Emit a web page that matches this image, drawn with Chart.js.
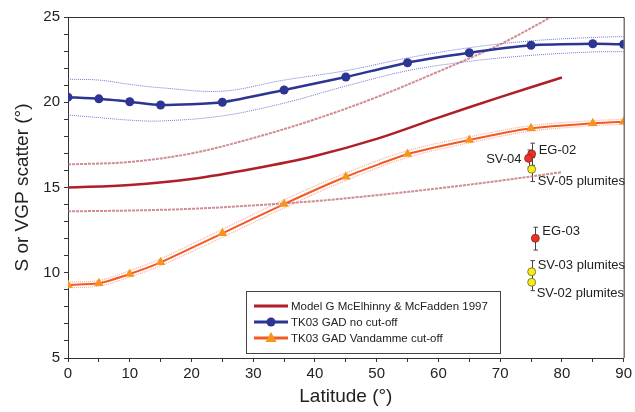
<!DOCTYPE html>
<html>
<head>
<meta charset="utf-8">
<script src="https://cdn.jsdelivr.net/npm/chart.js@4.4.1/dist/chart.umd.min.js"></script>
<style>
  html, body { margin: 0; padding: 0; background: #fff; }
  #wrap { width: 635px; height: 412px; position: relative; }
</style>
</head>
<body>
<div id="wrap"><canvas id="chart"></canvas></div>
<script>
// Latitude grid of the TK03 model runs
const tkLat = [0, 5, 10, 15, 25, 35, 45, 55, 65, 75, 85, 90];
const tkNoCut = [20.3, 20.2, 20.03, 19.84, 20.0, 20.72, 21.48, 22.32, 22.9, 23.34, 23.43, 23.4];
const tkNoCutHi = [21.35, 21.3, 21.05, 20.85, 20.65, 21.3, 21.85, 22.6, 23.2, 23.6, 23.8, 23.85];
const tkNoCutLo = [19.25, 19.1, 18.95, 18.9, 19.2, 19.95, 20.95, 21.85, 22.4, 22.75, 22.95, 22.97];
const tkVandamme = [9.28, 9.38, 9.93, 10.61, 12.31, 14.03, 15.63, 16.96, 17.79, 18.47, 18.77, 18.86];
const tkVandammeHi = [9.45, 9.55, 10.12, 10.82, 12.55, 14.28, 15.85, 17.16, 17.97, 18.63, 18.92, 19.0];
const tkVandammeLo = [9.12, 9.22, 9.75, 10.42, 12.08, 13.8, 15.42, 16.76, 17.62, 18.31, 18.62, 18.72];

// Model G (McElhinny & McFadden 1997) and its bounds
const modelLat = [0, 10, 20, 30, 40, 50, 60, 70, 80];
const modelG = [15.0, 15.15, 15.5, 16.1, 16.85, 17.85, 19.1, 20.3, 21.45];
const modelGHi = [16.35, 16.5, 17.0, 17.9, 19.0, 20.3, 21.8, 23.4, 25.35];
const modelGLo = [13.6, 13.65, 13.75, 13.95, 14.2, 14.55, 14.95, 15.4, 15.9];

// Site values with error bars
const siteNames = ['EG-02', 'SV-04', 'SV-05 plumites', 'EG-03', 'SV-03 plumites', 'SV-02 plumites'];
const siteLat = [75.1, 74.6, 75.1, 75.7, 75.1, 75.1];
const siteS = [16.96, 16.71, 16.07, 12.02, 10.06, 9.44];
const siteLow = [16.3, 16.2, 15.35, 11.33, 9.5, 8.95];
const siteHigh = [17.6, 17.2, 16.75, 12.67, 10.71, 9.9];
const siteKind = ['red', 'red', 'yellow', 'red', 'yellow', 'yellow'];

const xTicks = { min: 0, max: 90, step: 5, labelEvery: 10 };
const yTicks = { min: 5, max: 25, step: 1, labelEvery: 5 };

const pts = (xs, ys) => xs.map((x, i) => ({ x: x, y: ys[i] }));
const sitePts = (kind) => siteLat
  .map((x, i) => ({ x: x, y: siteS[i], i: i }))
  .filter(p => siteKind[p.i] === kind);

// label offsets (px) next to each site marker
const labelOffsets = [
  { dx: 7, dy: -4, align: 'left' },
  { dx: -7, dy: 1, align: 'right' },
  { dx: 6, dy: 12, align: 'left' },
  { dx: 7, dy: -7, align: 'left' },
  { dx: 6, dy: -6, align: 'left' },
  { dx: 5, dy: 11, align: 'left' },
];

const FONT = '"Liberation Sans", Arial, Helvetica, sans-serif';

const frame = {
  id: 'frame',
  afterDraw(chart) {
    const { ctx, chartArea: a } = chart;
    ctx.save();
    ctx.strokeStyle = '#333';
    ctx.lineWidth = 1;
    ctx.beginPath();
    ctx.moveTo(a.left, a.top + 0.5);
    ctx.lineTo(a.right + 0.5, a.top + 0.5);
    ctx.lineTo(a.right + 0.5, a.bottom);
    ctx.stroke();
    ctx.restore();
  }
};

// vertical error bars behind the site markers
const errorBars = {
  id: 'errorBars',
  beforeDatasetsDraw(chart) {
    const { ctx, scales: { x, y } } = chart;
    ctx.save();
    ctx.strokeStyle = '#444';
    ctx.lineWidth = 1;
    siteLat.forEach((lat, i) => {
      const px = Math.round(x.getPixelForValue(lat)) + 0.5;
      const top = y.getPixelForValue(siteHigh[i]);
      const bot = y.getPixelForValue(siteLow[i]);
      ctx.beginPath();
      ctx.moveTo(px, top); ctx.lineTo(px, bot);
      ctx.moveTo(px - 2, top); ctx.lineTo(px + 2.5, top);
      ctx.moveTo(px - 2, bot); ctx.lineTo(px + 2.5, bot);
      ctx.stroke();
    });
    ctx.restore();
  },
  afterDatasetsDraw(chart) {
    const { ctx, scales: { x, y } } = chart;
    ctx.save();
    ctx.fillStyle = '#222';
    ctx.font = '13px ' + FONT;
    ctx.textBaseline = 'middle';
    siteNames.forEach((name, i) => {
      const o = labelOffsets[i];
      ctx.textAlign = o.align;
      ctx.fillText(name, x.getPixelForValue(siteLat[i]) + o.dx, y.getPixelForValue(siteS[i]) + o.dy);
    });
    ctx.restore();
  }
};

// boxed legend inside the plot
const boxLegend = {
  id: 'boxLegend',
  afterDraw(chart, args, opts) {
    const { ctx } = chart;
    const items = chart.data.datasets.filter(d => d.legend);
    ctx.save();
    ctx.strokeStyle = '#444';
    ctx.lineWidth = 1;
    ctx.fillStyle = '#fff';
    ctx.fillRect(opts.x, opts.y, opts.w, opts.h);
    ctx.strokeRect(opts.x + 0.5, opts.y + 0.5, opts.w, opts.h);
    items.forEach((d, i) => {
      const cy = opts.y + opts.first + i * opts.gap;
      const x0 = opts.x + 8, x1 = opts.x + 42;
      ctx.strokeStyle = d.borderColor;
      ctx.lineWidth = 3;
      ctx.beginPath();
      ctx.moveTo(x0, cy); ctx.lineTo(x1, cy);
      ctx.stroke();
      const mx = (x0 + x1) / 2;
      if (d.pointStyle === 'circle') {
        ctx.fillStyle = d.pointBackgroundColor;
        ctx.beginPath();
        ctx.arc(mx, cy, 4.5, 0, Math.PI * 2);
        ctx.fill();
      } else if (d.pointStyle === 'triangle') {
        ctx.fillStyle = d.pointBackgroundColor;
        ctx.beginPath();
        ctx.moveTo(mx, cy - 6);
        ctx.lineTo(mx + 5.5, cy + 4);
        ctx.lineTo(mx - 5.5, cy + 4);
        ctx.closePath();
        ctx.fill();
      }
      ctx.fillStyle = '#222';
      ctx.font = '11.5px ' + FONT;
      ctx.textAlign = 'left';
      ctx.textBaseline = 'middle';
      ctx.fillText(d.label, opts.x + 45, cy + 1);
    });
    ctx.restore();
  }
};

const thin = (label, data, color, width, dash, order) => ({
  label, data, borderColor: color, borderWidth: width, borderDash: dash,
  pointRadius: 0, tension: 0.35, fill: false, order
});

new Chart(document.getElementById('chart'), {
  type: 'line',
  data: {
    datasets: [
      thin('Model G upper', pts(modelLat, modelGHi), 'rgba(190,95,105,0.72)', 2, [3, 1], 9),
      thin('Model G lower', pts(modelLat, modelGLo), 'rgba(190,95,105,0.72)', 2, [3, 1], 9),
      thin('no cut-off upper', pts(tkLat, tkNoCutHi), 'rgba(70,75,200,0.75)', 1, [1, 1], 9),
      thin('no cut-off lower', pts(tkLat, tkNoCutLo), 'rgba(70,75,200,0.75)', 1, [1, 1], 9),
      thin('Vandamme upper', pts(tkLat, tkVandammeHi), 'rgba(245,120,90,0.6)', 1.2, [1, 1], 9),
      thin('Vandamme lower', pts(tkLat, tkVandammeLo), 'rgba(245,120,90,0.6)', 1.2, [1, 1], 9),
      {
        label: 'Model G McElhinny & McFadden 1997', legend: true,
        data: pts(modelLat, modelG), borderColor: '#b01f28', borderWidth: 2.5,
        pointRadius: 0, tension: 0.35, order: 5
      },
      {
        label: 'TK03 GAD no cut-off', legend: true,
        data: pts(tkLat, tkNoCut), borderColor: '#2c3593', borderWidth: 2.5,
        pointStyle: 'circle', pointRadius: 4.5, pointBackgroundColor: '#2c3593',
        pointBorderColor: '#2c3593', pointBorderWidth: 0, tension: 0.2, order: 4
      },
      {
        label: 'TK03 GAD Vandamme cut-off', legend: true,
        data: pts(tkLat, tkVandamme), borderColor: '#f15a22', borderWidth: 2,
        pointStyle: 'triangle', pointRadius: 5.5, pointBackgroundColor: '#f7941d',
        pointBorderColor: '#f7941d', pointBorderWidth: 0, tension: 0.15, order: 3
      },
      {
        label: 'red sites', type: 'scatter', data: sitePts('red'),
        pointRadius: 4, pointBackgroundColor: '#ee3124', pointBorderColor: '#7a2a20',
        pointBorderWidth: 0.8, showLine: false, order: 1
      },
      {
        label: 'plumites', type: 'scatter', data: sitePts('yellow'),
        pointRadius: 4, pointBackgroundColor: '#f7ec1b', pointBorderColor: '#6b6520',
        pointBorderWidth: 0.8, showLine: false, order: 2
      }
    ]
  },
  options: {
    responsive: true,
    maintainAspectRatio: false,
    animation: false,
    layout: { padding: { top: 17, right: 10, left: 0, bottom: 0 } },
    plugins: {
      legend: { display: false },
      tooltip: { enabled: false },
      boxLegend: { x: 246, y: 291, w: 254, h: 62, first: 15, gap: 16 }
    },
    scales: {
      x: {
        type: 'linear', min: xTicks.min, max: xTicks.max,
        afterFit: (s) => { s.height = 54; },
        border: { color: '#333', width: 1 },
        grid: { drawOnChartArea: false, drawTicks: true, tickLength: 4, color: '#333' },
        ticks: {
          stepSize: xTicks.step, autoSkip: false, maxRotation: 0, padding: 3,
          color: '#222', font: { family: FONT, size: 15 },
          callback: (v) => v % xTicks.labelEvery === 0 ? v : ''
        },
        title: {
          display: true, text: 'Latitude (°)', color: '#222',
          font: { family: FONT, size: 19 }, padding: { top: 0, bottom: 4 }
        }
      },
      y: {
        type: 'linear', min: yTicks.min, max: yTicks.max,
        afterFit: (s) => { s.width = 68; },
        border: { color: '#333', width: 1 },
        grid: { drawOnChartArea: false, drawTicks: true, tickLength: 4, color: '#333' },
        ticks: {
          stepSize: yTicks.step, autoSkip: false, padding: 4,
          color: '#222', font: { family: FONT, size: 15 },
          callback: (v) => v % yTicks.labelEvery === 0 ? v : ''
        },
        title: {
          display: true, text: 'S or VGP scatter (°)', color: '#222',
          font: { family: FONT, size: 19 }, padding: { top: 11, bottom: 0 }
        }
      }
    }
  },
  plugins: [frame, errorBars, boxLegend]
});
</script>
</body>
</html>
